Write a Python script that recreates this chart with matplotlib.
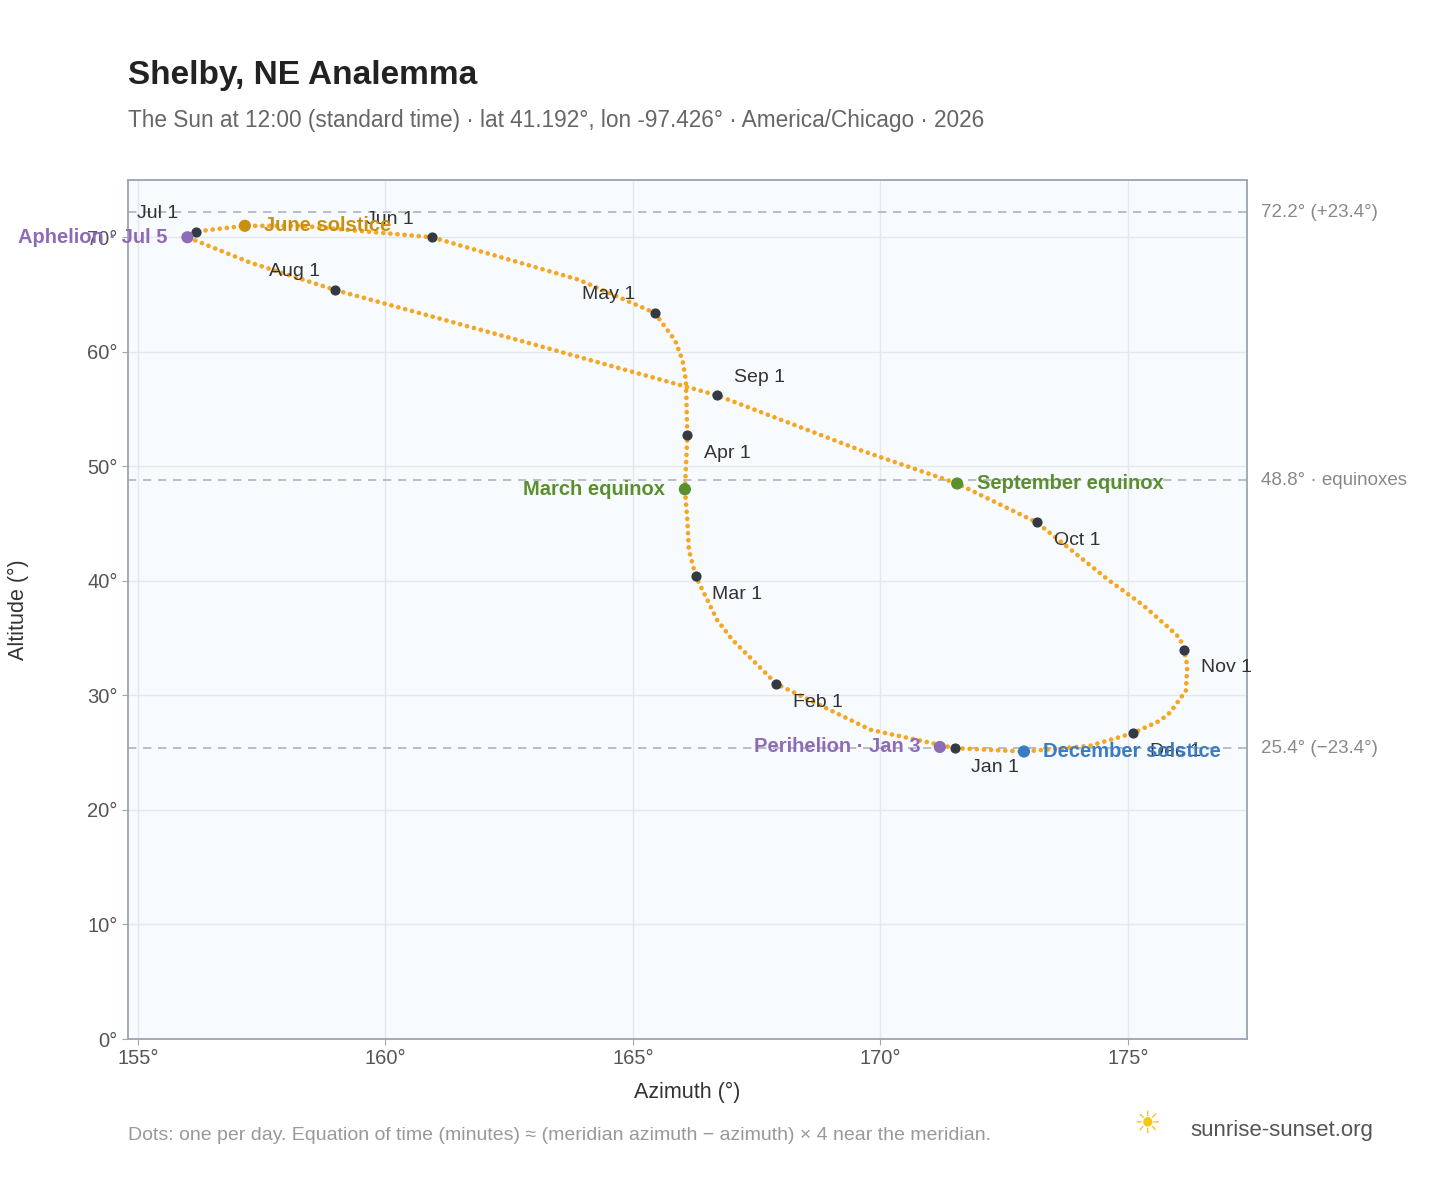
import matplotlib
matplotlib.use("Agg")
import matplotlib.pyplot as plt

plt.rcParams['font.family'] = ['Liberation Sans', 'DejaVu Sans']

# path of the sun (azimuth, altitude), Jan 1 -> Jan 1
path_az = [171.5, 169.8, 167.9, 167.0, 166.7, 166.27, 166.13, 166.1, 166.05, 166.1, 166.07,
           166.0, 165.85, 165.44, 163.9, 160.94, 158.3, 157.16, 156.17, 156.0, 157.26,
           158.98, 162.7, 166.7, 169.6, 171.55, 173.16, 174.6, 175.3, 175.8, 176.05,
           176.13, 176.2, 176.17, 175.85, 175.65, 175.1, 174.23, 172.9, 171.5]
path_alt = [25.4, 27.0, 31.0, 34.9, 36.6, 40.4, 42.7, 45.3, 48.0, 52.7, 57.5,
            59.3, 61.0, 63.4, 66.3, 70.0, 71.0, 71.0, 70.5, 70.0, 67.8,
            65.4, 61.0, 56.2, 51.4, 48.5, 45.1, 40.1, 37.9, 36.0, 35.0,
            34.0, 32.6, 30.4, 28.5, 27.8, 26.7, 25.6, 25.1, 25.4]

months = ["Jan 1", "Feb 1", "Mar 1", "Apr 1", "May 1", "Jun 1", "Jul 1", "Aug 1", "Sep 1", "Oct 1", "Nov 1", "Dec 1"]
month_az = [171.5, 167.9, 166.27, 166.1, 165.44, 160.94, 156.17, 158.98, 166.7, 173.16, 176.13, 175.1]
month_alt = [25.4, 31.0, 40.4, 52.7, 63.4, 70.0, 70.5, 65.4, 56.2, 45.1, 34.0, 26.7]
month_off = [(12, -14), (12, -13), (12, -13), (12, -13), (-14, 13), (-13, 13), (-13, 13), (-11, 13), (12, 13), (12, -13), (12, -13), (12, -13)]
month_ha = ["left", "left", "left", "left", "right", "right", "right", "right", "left", "left", "left", "left"]

events = ["March equinox", "June solstice", "September equinox", "December solstice", "Aphelion · Jul 5", "Perihelion · Jan 3"]
event_az = [166.05, 157.16, 171.55, 172.9, 156.0, 171.2]
event_alt = [48.0, 71.0, 48.5, 25.1, 70.0, 25.5]
event_col = ["#5a8f2e", "#c9900f", "#5a8f2e", "#3a7cc4", "#8e6bb8", "#8e6bb8"]
event_off = [(-14, 0), (14, 0), (14, 0), (14, 0), (-14, 0), (-14, 0)]
event_ha = ["right", "left", "left", "left", "right", "right"]

ref_alt = [72.2, 48.8, 25.4]
ref_lab = ["72.2° (+23.4°)", "48.8° · equinoxes", "25.4° (−23.4°)"]

fig = plt.figure(figsize=(14.48, 11.88), dpi=100)
ax = fig.add_axes([0.0884, 0.1254, 0.7726, 0.7231])
ax.set_facecolor("#f8fbfe")
ax.set_xlim(154.8, 177.4)
ax.set_ylim(0, 75)
ax.set_xticks([155, 160, 165, 170, 175])
ax.set_xticklabels([f"{v}°" for v in [155, 160, 165, 170, 175]])
ax.set_yticks(range(0, 71, 10))
ax.set_yticklabels([f"{v}°" for v in range(0, 71, 10)])
ax.grid(color="#e3e8ee", lw=1)
ax.set_axisbelow(True)
for s in ax.spines.values():
    s.set_color("#9aa5b1")
    s.set_linewidth(1.3)
ax.tick_params(colors="#555", labelsize=14.5, length=4, color="#9aa5b1")
ax.set_xlabel("Azimuth (°)", fontsize=15.5, color="#333", labelpad=10)
ax.set_ylabel("Altitude (°)", fontsize=15.5, color="#333", labelpad=42)

for a, l in zip(ref_alt, ref_lab):
    ax.axhline(a, color="#aab4c0", ls=(0, (5, 4)), lw=1.2, zorder=1)
    ax.annotate(l, (1.0, a), xycoords=("axes fraction", "data"), xytext=(10, 0),
                textcoords="offset points", va="center", fontsize=13.5, color="#888")

ax.plot(path_az, path_alt, color="#f5a623", lw=3.4, ls=(0, (0.01, 1.5)),
        dash_capstyle="round", zorder=2)

ax.scatter(month_az, month_alt, s=40, color="#333a44", zorder=4)
for m, x, y, o, h in zip(months, month_az, month_alt, month_off, month_ha):
    ax.annotate(m, (x, y), xytext=o, textcoords="offset points", ha=h, va="center",
                fontsize=14, color="#333")

ax.scatter(event_az, event_alt, s=60, color=event_col, zorder=5)
for e, x, y, c, o, h in zip(events, event_az, event_alt, event_col, event_off, event_ha):
    ax.annotate(e, (x, y), xytext=o, textcoords="offset points", ha=h, va="center",
                fontsize=14.5, color=c, fontweight="bold")

fig.text(0.0884, 0.929, "Shelby, NE Analemma", fontsize=24, fontweight="bold", color="#222")
fig.text(0.0884, 0.893, "The Sun at 12:00 (standard time) · lat 41.192°, lon -97.426° · America/Chicago · 2026",
         fontsize=16.3, color="#666")
fig.text(0.0884, 0.040, "Dots: one per day. Equation of time (minutes) ≈ (meridian azimuth − azimuth) × 4 near the meridian.",
         fontsize=14, color="#999")
fig.text(0.822, 0.044, "sunrise-sunset.org", fontsize=16, color="#555")
fig.text(0.792, 0.054, "☀", fontsize=22, color="#f5c518", ha="center", va="center", family="DejaVu Sans")

fig.savefig("out.png")
